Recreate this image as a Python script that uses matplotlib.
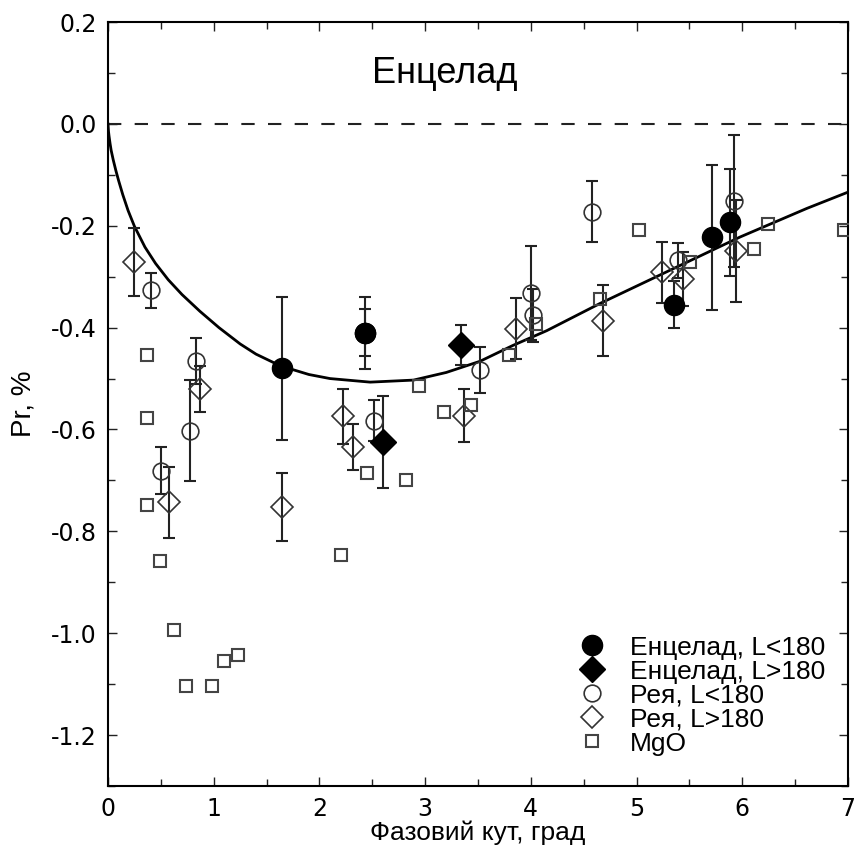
import matplotlib
matplotlib.use('Agg')
import matplotlib.pyplot as plt
from matplotlib.ticker import MultipleLocator

plt.rcParams['font.family'] = ['DejaVu Sans']
plt.rcParams['axes.unicode_minus'] = False

# Enceladus, L<180 (filled circles); two error estimates at 2.43
enc_lt_x = [1.65, 2.43, 2.43, 5.35, 5.71, 5.88]
enc_lt_y = [-0.48, -0.41, -0.41, -0.355, -0.223, -0.193]
enc_lt_err = [0.14, 0.071, 0.046, 0.046, 0.142, 0.105]

# Enceladus, L>180 (filled diamonds)
enc_gt_x = [2.60, 3.34]
enc_gt_y = [-0.624, -0.434]
enc_gt_err = [0.09, 0.04]

# Rhea, L<180 (open circles)
rhea_lt_x = [0.41, 0.50, 0.78, 0.83, 2.52, 3.52, 4.00, 4.02, 4.58, 5.39, 5.92]
rhea_lt_y = [-0.327, -0.681, -0.602, -0.466, -0.583, -0.483, -0.332, -0.376, -0.172, -0.268, -0.151]
rhea_lt_err = [0.034, 0.046, 0.10, 0.045, 0.04, 0.045, 0.093, 0.052, 0.06, 0.035, 0.13]

# Rhea, L>180 (open diamonds)
rhea_gt_x = [0.25, 0.58, 0.87, 1.65, 2.22, 2.32, 3.37, 3.86, 4.68, 5.24, 5.44, 5.94]
rhea_gt_y = [-0.271, -0.743, -0.521, -0.752, -0.574, -0.635, -0.573, -0.402, -0.386, -0.291, -0.304, -0.25]
rhea_gt_err = [0.066, 0.07, 0.045, 0.066, 0.054, 0.045, 0.052, 0.06, 0.07, 0.06, 0.053, 0.10]

# MgO laboratory sample (open squares)
mgo_x = [0.37, 0.37, 0.37, 0.49, 0.62, 0.74, 0.98, 1.10, 1.23, 2.20, 2.45, 2.82,
         2.94, 3.18, 3.43, 3.79, 4.05, 4.65, 5.02, 5.51, 6.11, 6.24, 6.96]
mgo_y = [-0.454, -0.577, -0.749, -0.858, -0.994, -1.104, -1.104, -1.055, -1.042, -0.846, -0.686, -0.699,
         -0.515, -0.565, -0.552, -0.453, -0.393, -0.343, -0.209, -0.271, -0.245, -0.197, -0.209]

# fitted curve
curve_x = [0, 0.005, 0.01, 0.02, 0.03, 0.05, 0.075, 0.10, 0.14, 0.19, 0.25, 0.35, 0.45, 0.57,
           0.70, 0.87, 1.05, 1.25, 1.40, 1.63, 1.90, 2.10, 2.48,
           2.89, 3.20, 3.52, 3.83, 4.15, 4.65, 5.35, 5.98, 6.61, 7.0]
curve_y = [0, -0.015, -0.024, -0.039, -0.052, -0.071, -0.092, -0.111, -0.139, -0.170, -0.201, -0.242,
           -0.274, -0.306, -0.335, -0.368, -0.400, -0.432, -0.452, -0.475, -0.492, -0.500, -0.507,
           -0.503, -0.488, -0.466, -0.435, -0.406, -0.353, -0.284, -0.222, -0.166, -0.134]

arial = 'Liberation Sans'

fig = plt.figure(figsize=(8.55, 8.57), dpi=100)
ax = fig.add_axes([0.1263, 0.0828, 0.8655, 0.8915])

ax.axhline(0, color='#222222', lw=1.5, linestyle=(0, (6.4, 6.4)), zorder=1)
ax.plot(curve_x, curve_y, color='black', lw=2, zorder=2)

eb = dict(fmt='none', ecolor='#222222', elinewidth=1.5, capsize=4, capthick=1.5, zorder=3)
ax.errorbar(enc_lt_x, enc_lt_y, yerr=enc_lt_err, **eb)
ax.errorbar(enc_gt_x, enc_gt_y, yerr=enc_gt_err, **eb)
ax.errorbar(rhea_lt_x, rhea_lt_y, yerr=rhea_lt_err, **eb)
ax.errorbar(rhea_gt_x, rhea_gt_y, yerr=rhea_gt_err, **eb)

ax.plot(enc_lt_x, enc_lt_y, 'o', ms=14.5, mfc='black', mec='black', ls='none', zorder=5,
        label='Енцелад, L<180')
ax.plot(enc_gt_x, enc_gt_y, 'D', ms=13, mfc='black', mec='black', ls='none', zorder=5,
        label='Енцелад, L>180')
ax.plot(rhea_lt_x, rhea_lt_y, 'o', ms=12, mfc='none', mec='#333333', mew=1.2, ls='none', zorder=4,
        label='Рея, L<180')
ax.plot(rhea_gt_x, rhea_gt_y, 'D', ms=11.5, mfc='none', mec='#333333', mew=1.2, ls='none', zorder=4,
        label='Рея, L>180')
ax.plot(mgo_x, mgo_y, 's', ms=8.5, mfc='none', mec='#444444', mew=1.5, ls='none', zorder=4,
        label='MgO')

ax.set_xlim(0, 7)
ax.set_ylim(-1.3, 0.2)
ax.xaxis.set_major_locator(MultipleLocator(1))
ax.xaxis.set_minor_locator(MultipleLocator(0.5))
ax.yaxis.set_major_locator(MultipleLocator(0.2))
ax.yaxis.set_minor_locator(MultipleLocator(0.1))
ax.tick_params(which='both', direction='in', top=True, right=True, width=1, color='#222222')
ax.tick_params(which='major', length=6.5, labelsize=17, pad=8)
ax.tick_params(which='minor', length=5)
for s in ax.spines.values():
    s.set_linewidth(1.5)

ax.text(3.19, 0.099, 'Енцелад', ha='center', va='center', fontsize=26, family=arial)
ax.set_xlabel('Фазовий кут, град', fontsize=19, family=arial)
ax.xaxis.set_label_coords(0.5, -0.045)
ax.set_ylabel('Pr, %', fontsize=20, family=arial)
ax.yaxis.set_label_coords(-0.097, 0.5)

ax.legend(loc='lower left', bbox_to_anchor=(0.613, 0.026), frameon=False, numpoints=1,
          prop={'family': arial, 'size': 19}, handletextpad=0.7, labelspacing=0.0,
          borderaxespad=0, handlelength=1.5)

fig.savefig('out.png', dpi=100)
